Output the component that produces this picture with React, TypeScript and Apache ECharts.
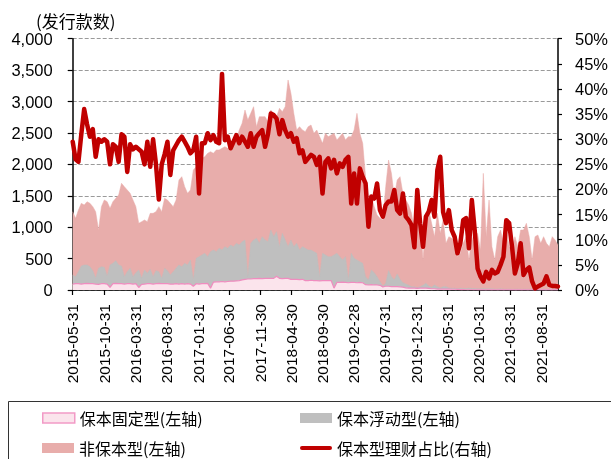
import React, { useEffect, useRef } from "react";
import * as echarts from "echarts";

// Bi-weekly observations starting 2015-05-31
const START_DATE = "2015-05-31";
const STEP_DAYS = 14;

// 保本固定型 (issues)
const fixedVals = [
  95,100,100,95,100,105,100,100,95,90,100,100,95,40,100,105,100,100,95,100,100,95,100,40,90,95,100,100,95,100,105,100,100,100,
  95,95,100,95,100,95,100,95,60,100,95,100,100,105,30,125,130,130,135,130,135,140,140,145,150,160,170,175,175,180,180,185,180,185,
  185,185,185,220,185,180,185,185,170,170,170,165,170,150,150,155,150,150,145,150,150,150,150,30,120,120,125,120,115,120,120,115,120,115,
  85,80,85,80,80,75,50,60,60,55,55,55,50,45,35,30,30,30,25,30,30,30,25,20,20,15,15,15,15,15,12,12,10,
  5,5,4,4,4,4,3,3,3,3,3,3,3,3,3,2,2,2,2,2,2,2,2,2,2,2,2,2,2,2,2,2,2,2,2,
];

// 保本浮动型 (issues)
const floatVals = [
  144,112,192,287,298,293,271,208,91,255,271,261,128,358,324,362,298,282,117,192,245,117,176,278,96,223,165,229,117,208,187,86,245,208,
  144,197,245,303,271,329,298,382,99,404,436,457,484,426,580,512,480,533,502,560,528,576,550,598,566,609,626,37,568,616,642,558,669,611,
  584,770,664,708,505,722,611,505,626,520,573,472,520,513,487,482,460,434,67,434,407,381,381,527,464,411,352,411,44,464,384,362,331,309,
  127,79,233,196,132,58,14,46,248,157,104,200,120,72,61,44,23,23,12,23,44,76,39,22,60,38,17,38,38,17,15,15,11,
  22,20,18,25,20,18,15,15,20,15,18,15,12,12,15,12,10,12,10,10,12,10,10,12,10,8,10,8,8,10,8,8,8,10,8,
];

// 非保本型 (issues)
const nonVals = [
  1008,929,981,998,955,1008,1009,1019,1061,610,956,1072,1183,902,982,992,1114,1316,1433,1300,1194,1221,1051,743,902,796,823,891,1008,939,1035,1061,1114,1125,
  1141,1035,1088,1353,1433,1221,1141,1115,1751,1459,955,1539,1538,1644,1592,1538,1619,1566,1618,1592,1592,1592,1645,1645,1831,1884,2069,2494,2069,2122,1778,2016,1910,1963,
  1911,1910,1937,1831,2202,1937,2122,2653,2334,2122,1804,1963,1857,1857,1963,1989,1884,1963,2229,1751,1937,1910,1936,1937,1804,1910,2017,1857,2282,1857,2043,2335,2043,1911,
  1588,902,1168,1051,982,1008,1050,1539,1761,1645,1327,1496,1634,1422,1337,1279,1167,902,1024,1114,403,1008,1209,1019,769,1167,870,1061,690,817,795,716,509,
  557,718,827,448,825,668,884,619,1834,831,1412,672,462,834,937,729,943,676,625,837,676,943,943,1047,837,467,837,865,733,837,733,680,839,784,706,
];

// 保本型理财占比 (%)
const ratioVals = [
  29.5,26,25.5,31,36,33,30.5,32,26.5,30,29.5,30,29.5,25,29,28.5,25.5,31,30.5,23.5,29,28,28.5,28,27.5,25,29.5,24.5,30,25,18,25,27,29.5,
  22.9,27.8,28.8,29.8,30.5,29.5,28.5,27.2,27.8,30.5,19.2,29.2,29.2,31.2,29.8,30.8,29.5,29.2,43,29.8,30.5,28.2,29.5,30.8,29.2,30.5,29.5,28.5,31.2,28.5,30.5,31.2,31.8,28.5,
  31,35.1,34.8,34.1,31,33.8,31.8,30.5,31.2,29.5,30.2,27.2,27.8,25.5,26.2,26.9,26.5,24.9,26.5,19.2,25.5,26.2,24.2,25.9,23.2,25.2,24.5,25.9,26.5,17.2,23.2,17.2,24.2,22.5,
  21.2,12.6,18.6,18.2,21.2,15.9,14.6,16.9,17.6,17.6,19.9,15.9,15.2,19.2,14.6,13.9,12.9,8.5,19.9,13.3,8.6,14.6,15.6,17.9,14.6,23.9,26.5,15.5,13.3,15.9,11.9,10.6,7.3,
  9.3,13.9,14.3,8.3,17.9,11.9,4.3,2.7,1.7,3.6,2.3,4.0,3.3,3.6,5.0,6.6,13.9,13.3,8.6,3.3,5.3,9.3,3.0,4.0,4.5,1.7,0.3,0.7,1.0,1.3,2.7,1.0,0.8,0.8,0.7,
];

const xTickLabels = [
  "2015-05-31","2015-10-31","2016-03-31","2016-08-31","2017-01-31","2017-06-30",
  "2017-11-30","2018-04-30","2018-09-30","2019-02-28","2019-07-31","2019-12-31",
  "2020-05-31","2020-10-31","2021-03-31","2021-08-31",
];

const NAMES = ["保本固定型(左轴)", "保本浮动型(左轴)", "非保本型(左轴)", "保本型理财占比(右轴)"];

const DAY = 86400000;
const startMs = Date.parse(START_DATE);
const dates = ratioVals.map((_, i) => startMs + i * STEP_DAYS * DAY);
const labelTimes = xTickLabels.map((s) => Date.parse(s));

const NUM_FONT = "'Liberation Sans', Arial, sans-serif";
const CJK_FONT = "'Noto Sans CJK SC', sans-serif";

const legendBase = {
  orient: "horizontal",
  itemWidth: 32,
  itemHeight: 10,
  padding: 0,
  selectedMode: false,
  textStyle: { fontSize: 16, fontFamily: CJK_FONT, color: "#000", lineHeight: 16 },
};

export default function App() {
  const ref = useRef<HTMLDivElement>(null);
  useEffect(() => {
    if (!ref.current) return;
    const chart = echarts.init(ref.current, null, { renderer: "svg" });
    // stacked tops of the three issue layers (bottom: fixed, then float, then non)
    const lvl1 = fixedVals;
    const lvl2 = fixedVals.map((v, i) => v + floatVals[i]);
    const lvl3 = lvl2.map((v, i) => v + nonVals[i]);
    const pair = (arr: number[]) => dates.map((d, i) => [d, arr[i]]);
    const option: any = {
      animation: false,
      grid: { left: 72.7, right: 48.3, top: 38.7, bottom: 169 },
      xAxis: {
        type: "value",
        min: dates[0],
        max: dates[dates.length - 1],
        axisLine: { show: true, lineStyle: { color: "#000", width: 1.5 } },
        axisTick: { show: true, customValues: labelTimes, length: 5, lineStyle: { color: "#000", width: 1.2 } },
        axisLabel: {
          customValues: labelTimes,
          rotate: 90,
          margin: 14,
          fontSize: 15.5,
          fontFamily: NUM_FONT,
          color: "#000",
          formatter: (v: number) => new Date(v).toISOString().slice(0, 10),
        },
        splitLine: { show: false },
      },
      yAxis: [
        {
          type: "value",
          min: 0,
          max: 4000,
          interval: 500,
          axisLine: { show: true, lineStyle: { color: "#000", width: 1.5 } },
          axisTick: { show: true, length: 5, lineStyle: { color: "#000", width: 1.2 } },
          axisLabel: {
            margin: 20,
            fontSize: 16.5,
            fontFamily: NUM_FONT,
            color: "#000",
            formatter: (v: number) => v.toLocaleString("en-US"),
          },
          splitLine: { show: true, lineStyle: { color: "#9a9a9a", type: [4, 2], width: 1 } },
        },
        {
          type: "value",
          min: 0,
          max: 50,
          interval: 5,
          position: "right",
          axisLine: { show: true, lineStyle: { color: "#000", width: 1.5 } },
          axisTick: { show: true, length: 4, lineStyle: { color: "#000", width: 1.2 } },
          axisLabel: {
            margin: 17,
            fontSize: 16.5,
            fontFamily: NUM_FONT,
            color: "#000",
            formatter: "{value}%",
          },
          splitLine: { show: false },
        },
      ],
      legend: [
        {
          ...legendBase,
          left: 42,
          top: 410,
          data: [{ name: NAMES[0], icon: "rect", itemStyle: { color: "#fbe4ec", borderColor: "#f29ac6", borderWidth: 1.5 } }],
        },
        {
          ...legendBase,
          left: 42,
          top: 440,
          data: [{ name: NAMES[2], icon: "rect", itemStyle: { color: "#e8adab" } }],
        },
        {
          ...legendBase,
          left: 300,
          top: 410,
          data: [{ name: NAMES[1], icon: "rect", itemStyle: { color: "#bfbfbf" } }],
        },
        {
          ...legendBase,
          left: 300,
          top: 440,
          data: [
            {
              name: NAMES[3],
              icon: "path://M2,0 L30,0 A2,2 0 0 1 30,4 L2,4 A2,2 0 0 1 2,0 Z",
              itemStyle: { color: "#c00000" },
            },
          ],
        },
      ],
      graphic: [
        {
          type: "text",
          x: 36,
          y: 20,
          style: { text: "(发行款数)", fontSize: 17, fontFamily: CJK_FONT, fill: "#000", verticalAlign: "middle" },
        },
        {
          type: "rect",
          shape: { x: 8.5, y: 401.5, width: 700, height: 100 },
          style: { fill: "none", stroke: "#333", lineWidth: 1 },
          silent: true,
        },
      ],
      series: [
        {
          name: NAMES[2],
          type: "line",
          symbol: "none",
          data: pair(lvl3),
          lineStyle: { width: 0.5, color: "#e8adab" },
          itemStyle: { color: "#e8adab" },
          areaStyle: { color: "#e8adab", opacity: 1, origin: "start" },
          z: 2,
        },
        {
          name: NAMES[1],
          type: "line",
          symbol: "none",
          data: pair(lvl2),
          lineStyle: { width: 0.5, color: "#bfbfbf" },
          itemStyle: { color: "#bfbfbf" },
          areaStyle: { color: "#bfbfbf", opacity: 1, origin: "start" },
          z: 3,
        },
        {
          name: NAMES[0],
          type: "line",
          symbol: "none",
          data: pair(lvl1),
          lineStyle: { color: "#f08cbf", width: 1.2 },
          itemStyle: { color: "#fbe4ec" },
          areaStyle: { color: "#fbe4ec", opacity: 1, origin: "start" },
          z: 4,
        },
        {
          name: NAMES[3],
          type: "line",
          yAxisIndex: 1,
          symbol: "none",
          data: pair(ratioVals),
          lineStyle: { color: "#c00000", width: 4.5, join: "round", cap: "round" },
          itemStyle: { color: "#c00000" },
          z: 5,
        },
      ],
    };
    chart.setOption(option);
    return () => chart.dispose();
  }, []);
  return <div ref={ref} style={{ position: "fixed", left: 0, top: 0, width: 611, height: 459 }} />;
}
